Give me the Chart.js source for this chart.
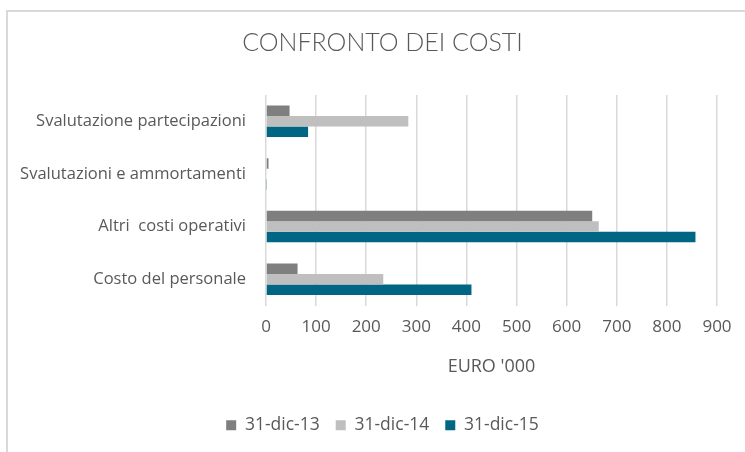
<!DOCTYPE html>
<html>
<head>
<meta charset="utf-8">
<script src="https://cdn.jsdelivr.net/npm/chart.js@4"></script>
<style>
  html, body { margin: 0; padding: 0; background: #fff; overflow: hidden; }
  #wrap { position: relative; width: 745px; height: 452px; overflow: hidden; }
  #frame {
    position: absolute; left: 6px; top: 10px; width: 800px; height: 500px;
    border-left: 2px solid #d9d9d9; border-top: 2px solid #d9d9d9;
  }
  canvas { position: absolute; left: 0; top: 0; }
</style>
</head>
<body>
<div id="wrap">
  <div id="frame"></div>
  <!-- the chart frame runs past the right edge, so the canvas does too -->
  <canvas id="costChart" width="765" height="452"></canvas>
</div>
<script>
const categories = [
    "Svalutazione partecipazioni",
    "Svalutazioni e ammortamenti",
    "Altri  costi operativi",
    "Costo del personale"
];
const series = ["31-dic-13", "31-dic-14", "31-dic-15"];
const costs13 = [47, 5, 651, 63];
const costs14 = [284, 0, 664, 234];
const costs15 = [84, 2, 857, 410];
const xTicks = [0, 100, 200, 300, 400, 500, 600, 700, 800, 900];

const textColor = "#595959";
const font = "'Open Sans', sans-serif";

const ctx = document.getElementById("costChart").getContext("2d");

const chart = new Chart(ctx, {
    type: "bar",
    data: {
        labels: categories,
        datasets: [
            { label: series[0], data: costs13, backgroundColor: "#7f7f7f" },
            { label: series[1], data: costs14, backgroundColor: "#bfbfbf" },
            { label: series[2], data: costs15, backgroundColor: "#006683" }
        ]
    },
    options: {
        indexAxis: "y",
        responsive: false,
        animation: false,
        categoryPercentage: 0.6,
        barPercentage: 1.0,
        layout: { padding: { left: 0, right: 0, top: 0, bottom: 8 } },
        plugins: {
            title: {
                display: true,
                text: "CONFRONTO DEI COSTI",
                color: textColor,
                font: { family: "Lato, sans-serif", size: 25, weight: 300 },
                padding: { top: 28, bottom: 37 }
            },
            legend: {
                position: "bottom",
                labels: {
                    color: textColor,
                    font: { family: font, size: 17.5 },
                    boxWidth: 10,
                    boxHeight: 10,
                    padding: 16
                }
            },
            tooltip: { enabled: false }
        },
        scales: {
            x: {
                min: 0,
                max: 900,
                afterBuildTicks: (scale) => {
                    scale.ticks = xTicks.map(v => ({ value: v }));
                },
                // leave room on the right so the plot stops short of the frame edge
                afterFit: (scale) => { scale.paddingRight = 48; },
                grid: { color: "#d9d9d9", lineWidth: 1.5, drawTicks: false },
                border: { display: false },
                ticks: {
                    color: textColor,
                    font: { family: font, size: 17 },
                    padding: 11,
                    maxRotation: 0
                },
                title: {
                    display: true,
                    text: "EURO '000",
                    color: textColor,
                    font: { family: font, size: 18 },
                    padding: { top: 8, bottom: 23 }
                }
            },
            y: {
                grid: { display: false, drawTicks: false },
                border: { display: false },
                ticks: {
                    color: textColor,
                    font: { family: font, size: 16.5 },
                    padding: 20
                },
                afterFit: (scale) => { scale.width = 266; }
            }
        }
    }
});
</script>
</body>
</html>
